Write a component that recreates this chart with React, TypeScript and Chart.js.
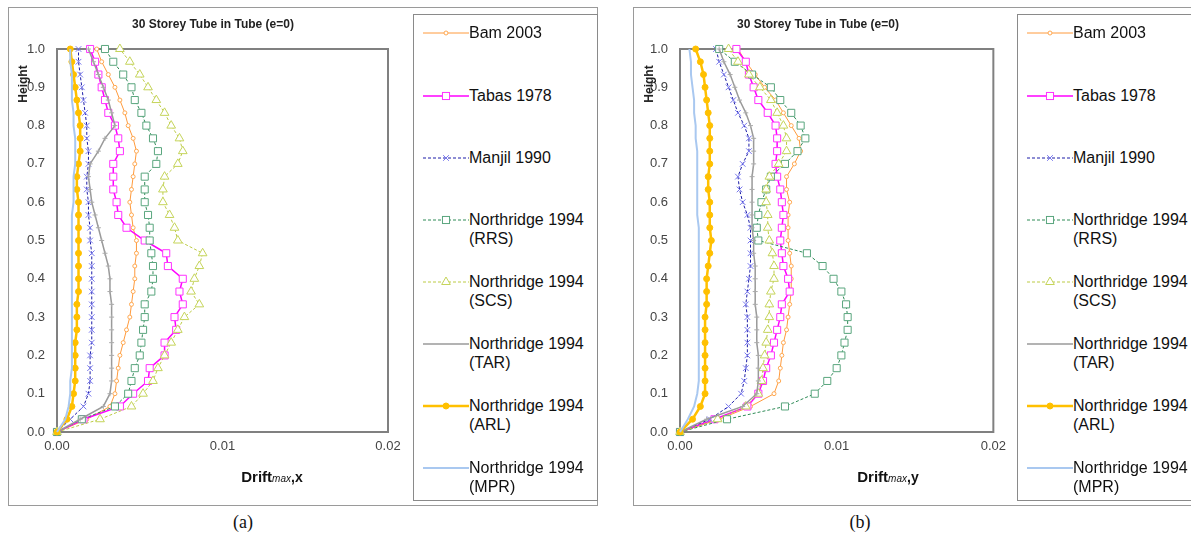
import React, { useEffect, useRef } from 'react';
import { Chart, registerables } from 'chart.js';
Chart.register(...registerables);

// ---------- data ----------
const HEIGHTS = [0, 0.0333, 0.0667, 0.1, 0.1333, 0.1667, 0.2, 0.2333, 0.2667, 0.3, 0.3333, 0.3667, 0.4, 0.4333, 0.4667, 0.5, 0.5333, 0.5667, 0.6, 0.6333, 0.6667, 0.7, 0.7333, 0.7667, 0.8, 0.8333, 0.8667, 0.9, 0.9333, 0.9667, 1.0];
const X_TICKS = [0, 0.01, 0.02];
const X_TICK_LABELS = ['0.00', '0.01', '0.02'];
const Y_TICKS = [0, 0.1, 0.2, 0.3, 0.4, 0.5, 0.6, 0.7, 0.8, 0.9, 1.0];
const Y_TICK_LABELS = ['0.0', '0.1', '0.2', '0.3', '0.4', '0.5', '0.6', '0.7', '0.8', '0.9', '1.0'];
const SERIES_NAMES = ['Bam 2003', 'Tabas 1978', 'Manjil 1990', 'Northridge 1994 (RRS)', 'Northridge 1994 (SCS)', 'Northridge 1994 (TAR)', 'Northridge 1994 (ARL)', 'Northridge 1994 (MPR)'];
const LEGEND_LINES = [['Bam 2003'], ['Tabas 1978'], ['Manjil 1990'], ['Northridge 1994', '(RRS)'], ['Northridge 1994', '(SCS)'], ['Northridge 1994', '(TAR)'], ['Northridge 1994', '(ARL)'], ['Northridge 1994', '(MPR)']];
const CHART_TITLE = '30 Storey Tube in Tube (e=0)';

// panel (a): Drift max,x
const A_BAM = [0, 0.0018, 0.0032, 0.0035, 0.0036, 0.0037, 0.0038, 0.0040, 0.0042, 0.0044, 0.0045, 0.0046, 0.0047, 0.0047, 0.0048, 0.0048, 0.0046, 0.0045, 0.0044, 0.0045, 0.0046, 0.0047, 0.0048, 0.0046, 0.0043, 0.0041, 0.0038, 0.0035, 0.0031, 0.0027, 0.0024];
const A_TABAS = [0, 0.0016, 0.0038, 0.0046, 0.0055, 0.0056, 0.0065, 0.0065, 0.0072, 0.0071, 0.0076, 0.0074, 0.0076, 0.0067, 0.0066, 0.0053, 0.0042, 0.0037, 0.0036, 0.0034, 0.0034, 0.0034, 0.0038, 0.0037, 0.0035, 0.0031, 0.0029, 0.0027, 0.0025, 0.0023, 0.0020];
const A_MANJIL = [0, 0.0008, 0.0016, 0.0019, 0.0020, 0.0020, 0.0020, 0.0021, 0.0021, 0.0021, 0.0021, 0.0021, 0.0021, 0.0021, 0.0021, 0.0020, 0.0020, 0.0019, 0.0019, 0.0018, 0.0018, 0.0019, 0.0019, 0.0018, 0.0018, 0.0017, 0.0016, 0.0015, 0.0014, 0.0013, 0.0013];
const A_RRS = [0, 0.0015, 0.0035, 0.0043, 0.0045, 0.0047, 0.0050, 0.0051, 0.0052, 0.0053, 0.0053, 0.0057, 0.0058, 0.0058, 0.0057, 0.0056, 0.0056, 0.0055, 0.0053, 0.0053, 0.0053, 0.0060, 0.0061, 0.0058, 0.0054, 0.0051, 0.0047, 0.0045, 0.0040, 0.0034, 0.0029];
const A_SCS = [0, 0.0026, 0.0045, 0.0052, 0.0058, 0.0061, 0.0065, 0.0069, 0.0073, 0.0077, 0.0086, 0.0081, 0.0083, 0.0086, 0.0088, 0.0073, 0.0071, 0.0068, 0.0064, 0.0064, 0.0065, 0.0073, 0.0076, 0.0074, 0.0069, 0.0065, 0.0060, 0.0055, 0.0050, 0.0044, 0.0038];
const A_TAR = [0, 0.0014, 0.0028, 0.0032, 0.0033, 0.0033, 0.0033, 0.0033, 0.0033, 0.0033, 0.0033, 0.0032, 0.0032, 0.0031, 0.0029, 0.0027, 0.0025, 0.0023, 0.0021, 0.0020, 0.0019, 0.0020, 0.0025, 0.0029, 0.0035, 0.0033, 0.0031, 0.0028, 0.0025, 0.0022, 0.0019];
const A_ARL = [0, 0.0006, 0.0009, 0.0010, 0.0011, 0.0011, 0.0011, 0.0011, 0.0012, 0.0012, 0.0012, 0.0013, 0.0013, 0.0013, 0.0013, 0.0013, 0.0013, 0.0013, 0.0013, 0.0012, 0.0012, 0.0013, 0.0014, 0.0014, 0.0014, 0.0013, 0.0012, 0.0011, 0.0010, 0.0009, 0.0008];
const A_MPR = [0, 0.0005, 0.0007, 0.0008, 0.0008, 0.0009, 0.0009, 0.0009, 0.0009, 0.0009, 0.0009, 0.0009, 0.0009, 0.0009, 0.0009, 0.0009, 0.0009, 0.0009, 0.0010, 0.0010, 0.0010, 0.0011, 0.0011, 0.0011, 0.0010, 0.0010, 0.0009, 0.0009, 0.0009, 0.0008, 0.0008];

// panel (b): Drift max,y
const B_BAM = [0, 0.0025, 0.0045, 0.0060, 0.0063, 0.0064, 0.0065, 0.0066, 0.0068, 0.0069, 0.0070, 0.0071, 0.0071, 0.0071, 0.0070, 0.0069, 0.0069, 0.0069, 0.0070, 0.0068, 0.0068, 0.0073, 0.0077, 0.0076, 0.0071, 0.0066, 0.0061, 0.0054, 0.0048, 0.0042, 0.0037];
const B_TABAS = [0, 0.0022, 0.0043, 0.0050, 0.0053, 0.0055, 0.0058, 0.0060, 0.0062, 0.0064, 0.0065, 0.0070, 0.0069, 0.0066, 0.0065, 0.0064, 0.0065, 0.0066, 0.0065, 0.0064, 0.0062, 0.0061, 0.0062, 0.0062, 0.0061, 0.0056, 0.0050, 0.0047, 0.0044, 0.0042, 0.0036];
const B_MANJIL = [0, 0.0019, 0.0031, 0.0039, 0.0041, 0.0042, 0.0043, 0.0043, 0.0043, 0.0043, 0.0042, 0.0043, 0.0044, 0.0045, 0.0045, 0.0045, 0.0045, 0.0043, 0.0040, 0.0038, 0.0037, 0.0040, 0.0044, 0.0044, 0.0041, 0.0037, 0.0034, 0.0031, 0.0028, 0.0025, 0.0023];
const B_RRS = [0, 0.0030, 0.0067, 0.0086, 0.0094, 0.0100, 0.0103, 0.0105, 0.0107, 0.0107, 0.0106, 0.0103, 0.0098, 0.0091, 0.0081, 0.0050, 0.0049, 0.0050, 0.0052, 0.0055, 0.0058, 0.0067, 0.0075, 0.0080, 0.0077, 0.0071, 0.0064, 0.0058, 0.0046, 0.0035, 0.0025];
const B_SCS = [0, 0.0024, 0.0042, 0.0050, 0.0052, 0.0053, 0.0054, 0.0055, 0.0056, 0.0057, 0.0057, 0.0058, 0.0060, 0.0060, 0.0059, 0.0057, 0.0056, 0.0056, 0.0055, 0.0055, 0.0057, 0.0063, 0.0068, 0.0068, 0.0066, 0.0062, 0.0058, 0.0051, 0.0044, 0.0037, 0.0031];
const B_TAR = [0, 0.0017, 0.0040, 0.0049, 0.0050, 0.0050, 0.0050, 0.0049, 0.0049, 0.0049, 0.0048, 0.0048, 0.0048, 0.0048, 0.0047, 0.0047, 0.0046, 0.0046, 0.0046, 0.0046, 0.0046, 0.0047, 0.0047, 0.0047, 0.0045, 0.0042, 0.0038, 0.0035, 0.0032, 0.0028, 0.0025];
const B_ARL = [0, 0.0008, 0.0013, 0.0016, 0.0016, 0.0016, 0.0016, 0.0016, 0.0016, 0.0016, 0.0017, 0.0017, 0.0017, 0.0018, 0.0019, 0.0020, 0.0019, 0.0019, 0.0019, 0.0018, 0.0018, 0.0019, 0.0019, 0.0019, 0.0019, 0.0018, 0.0017, 0.0016, 0.0015, 0.0013, 0.0010];
const B_MPR = [0, 0.0005, 0.0009, 0.0011, 0.0012, 0.0012, 0.0012, 0.0012, 0.0012, 0.0012, 0.0012, 0.0012, 0.0012, 0.0012, 0.0012, 0.0012, 0.0012, 0.0011, 0.0011, 0.0011, 0.0011, 0.0011, 0.0011, 0.0010, 0.0010, 0.0009, 0.0009, 0.0008, 0.0007, 0.0007, 0.0006];

// ---------- styles ----------
const SANS = "'Liberation Sans', Arial, sans-serif";
type Style = { color: string; width: number; dash: number[]; point: string | false; radius: number; pColor: string; pFill: string };
const STYLES: Style[] = [
  { color: '#FF9A3C', width: 1, dash: [], point: 'circle', radius: 2, pColor: '#FFA850', pFill: '#ffffff' },
  { color: '#FF00FF', width: 1.5, dash: [], point: 'rect', radius: 5, pColor: '#FF33FF', pFill: '#ffffff' },
  { color: '#1c1ca8', width: 1, dash: [3, 2], point: 'crossRot', radius: 4, pColor: '#7777ee', pFill: '#ffffff' },
  { color: '#2e8b57', width: 1, dash: [3, 2], point: 'rect', radius: 5, pColor: '#5aa67e', pFill: '#ffffff' },
  { color: '#bccb45', width: 1, dash: [3, 2], point: 'triangle', radius: 5, pColor: '#c5d45a', pFill: '#ffffff' },
  { color: '#9a9a9a', width: 1.5, dash: [], point: 'cross', radius: 2.5, pColor: '#aaaaaa', pFill: '#ffffff' },
  { color: '#FFC000', width: 2.5, dash: [], point: 'circle', radius: 3, pColor: '#FFC000', pFill: '#FFC000' },
  { color: '#A9C8F0', width: 2, dash: [], point: false, radius: 0, pColor: '#A9C8F0', pFill: '#A9C8F0' },
];

type PanelCfg = {
  values: number[][];
  axisSuffix: string;
  canvasLeft: number; canvasTop: number; canvasW: number; canvasH: number;
  plotL: number; plotR: number; plotT: number; plotB: number; // canvas coords
  frameL: number; frameR: number;
  legendL: number; legendR: number;
  titleX: number; driftX: number; heightX: number; capX: number; cap: string;
};

const PANELS: PanelCfg[] = [
  {
    values: [A_BAM, A_TABAS, A_MANJIL, A_RRS, A_SCS, A_TAR, A_ARL, A_MPR], axisSuffix: 'x',
    canvasLeft: 8, canvasTop: 7, canvasW: 400, canvasH: 499,
    plotL: 49, plotR: 380, plotT: 42, plotB: 425,
    frameL: 8, frameR: 598, legendL: 413, legendR: 598,
    titleX: 213, driftX: 272, heightX: 24, capX: 243, cap: '(a)',
  },
  {
    values: [B_BAM, B_TABAS, B_MANJIL, B_RRS, B_SCS, B_TAR, B_ARL, B_MPR], axisSuffix: 'y',
    canvasLeft: 633, canvasTop: 7, canvasW: 380, canvasH: 499,
    plotL: 47, plotR: 365, plotT: 42, plotB: 425,
    frameL: 633, frameR: 1195, legendL: 1017, legendR: 1195,
    titleX: 818, driftX: 888, heightX: 650, capX: 860, cap: '(b)',
  },
];

const LEGEND_Y = [33, 96, 158, 220, 282, 344, 406, 468];

const plotFrame = {
  id: 'plotFrame',
  beforeDatasetsDraw(chart: any) {
    const { ctx, chartArea: a } = chart;
    ctx.save();
    ctx.strokeStyle = '#808080';
    ctx.lineWidth = 2;
    ctx.strokeRect(a.left, a.top, a.right - a.left, a.bottom - a.top);
    ctx.restore();
  },
};

function PanelChart({ cfg }: { cfg: PanelCfg }) {
  const ref = useRef<HTMLCanvasElement | null>(null);
  useEffect(() => {
    if (!ref.current) return;
    const datasets = cfg.values.map((vals, i) => {
      const s = STYLES[i];
      return {
        label: SERIES_NAMES[i],
        data: vals.map((v, k) => ({ x: v, y: HEIGHTS[k] })),
        showLine: true,
        borderColor: s.color,
        borderWidth: s.width,
        borderDash: s.dash,
        pointStyle: s.point === false ? 'circle' : s.point,
        pointRadius: s.radius,
        pointBorderColor: s.pColor,
        pointBackgroundColor: s.pFill,
        pointBorderWidth: 1,
        tension: 0,
        clip: false as any,
        order: 7 - i,
      };
    });
    const chart = new Chart(ref.current, {
      type: 'scatter',
      data: { datasets: datasets as any },
      plugins: [plotFrame],
      options: {
        animation: false,
        responsive: false,
        events: [],
        layout: { padding: { left: 0, top: cfg.plotT, right: cfg.canvasW - cfg.plotR, bottom: 0 } },
        plugins: { legend: { display: false }, tooltip: { enabled: false }, title: { display: false } },
        scales: {
          x: {
            type: 'linear', min: 0, max: 0.02,
            afterBuildTicks: (s: any) => { s.ticks = X_TICKS.map((v) => ({ value: v })); },
            afterFit: (s: any) => { s.height = cfg.canvasH - cfg.plotB; },
            ticks: {
              callback: (_v: any, i: number) => X_TICK_LABELS[i],
              font: { family: SANS, size: 13 }, color: '#444', padding: 7, maxRotation: 0, autoSkip: false,
            },
            grid: { display: false, drawTicks: false },
            border: { display: false },
          },
          y: {
            type: 'linear', min: 0, max: 1,
            afterBuildTicks: (s: any) => { s.ticks = Y_TICKS.map((v) => ({ value: v })); },
            afterFit: (s: any) => { s.width = cfg.plotL; },
            ticks: {
              callback: (_v: any, i: number) => Y_TICK_LABELS[i],
              font: { family: SANS, size: 13 }, color: '#444', padding: 12, autoSkip: false,
            },
            grid: { display: false, drawTicks: false },
            border: { display: false },
          },
        },
      } as any,
    });
    return () => chart.destroy();
  }, [cfg]);
  return (
    <canvas
      ref={ref}
      width={cfg.canvasW}
      height={cfg.canvasH}
      style={{ position: 'absolute', left: cfg.canvasLeft, top: cfg.canvasTop, width: cfg.canvasW, height: cfg.canvasH }}
    />
  );
}

function MarkerSvg({ s }: { s: Style }) {
  const cx = 23, cy = 7;
  let marker: any = null;
  const r = s.radius;
  if (s.point === 'circle') marker = <circle cx={cx} cy={cy} r={r} fill={s.pFill} stroke={s.pColor} strokeWidth={1} />;
  else if (s.point === 'rect') { const h = r * 0.707; marker = <rect x={cx - h} y={cy - h} width={2 * h} height={2 * h} fill={s.pFill} stroke={s.pColor} strokeWidth={1} />; }
  else if (s.point === 'crossRot') { const h = r * 0.707; marker = <path d={`M${cx - h},${cy - h}L${cx + h},${cy + h}M${cx - h},${cy + h}L${cx + h},${cy - h}`} stroke={s.pColor} strokeWidth={1} />; }
  else if (s.point === 'triangle') marker = <path d={`M${cx},${cy - r}L${cx + r * 0.866},${cy + r * 0.5}L${cx - r * 0.866},${cy + r * 0.5}Z`} fill={s.pFill} stroke={s.pColor} strokeWidth={1} />;
  return (
    <svg width={46} height={14} style={{ position: 'absolute', left: 0, top: 0 }}>
      <line x1={0} y1={cy} x2={46} y2={cy} stroke={s.color} strokeWidth={s.width} strokeDasharray={s.dash.length ? s.dash.join(',') : undefined} />
      {marker}
    </svg>
  );
}

function Panel({ cfg }: { cfg: PanelCfg }) {
  return (
    <>
      <div style={{ position: 'absolute', left: cfg.frameL, top: 7, width: cfg.frameR - cfg.frameL, height: 499, border: '1px solid #9a9a9a', boxSizing: 'border-box' }} />
      <div style={{ position: 'absolute', left: cfg.legendL, top: 14, width: cfg.legendR - cfg.legendL, height: 487, border: '1.5px solid #8a8a8a', boxSizing: 'border-box', background: '#fff' }} />
      <PanelChart cfg={cfg} />
      <div style={{ position: 'absolute', left: cfg.titleX - 150, width: 300, top: 17, textAlign: 'center', font: `bold 12px ${SANS}`, color: '#222', whiteSpace: 'nowrap' }}>{CHART_TITLE}</div>
      <div style={{ position: 'absolute', left: cfg.heightX - 30, top: 84 - 8, width: 60, height: 16, lineHeight: '16px', textAlign: 'center', transform: 'rotate(-90deg)', font: `bold 12px ${SANS}`, color: '#222' }}>Height</div>
      <div style={{ position: 'absolute', left: cfg.driftX - 60, width: 120, top: 468, textAlign: 'center', color: '#111', whiteSpace: 'nowrap', fontFamily: SANS }}>
        <span style={{ fontWeight: 'bold', fontSize: 15 }}>Drift</span>
        <span style={{ fontStyle: 'italic', fontSize: 10 }}>max</span>
        <span style={{ fontWeight: 'bold', fontSize: 14 }}>,{cfg.axisSuffix}</span>
      </div>
      {LEGEND_LINES.map((lines, i) => (
        <div key={i} style={{ position: 'absolute', left: cfg.legendL + 10, top: LEGEND_Y[i] - 7, width: 200, height: 40 }}>
          <MarkerSvg s={STYLES[i]} />
          <div style={{ position: 'absolute', left: 46, top: -3, font: `16px ${SANS}`, lineHeight: '19px', color: '#111', whiteSpace: 'nowrap' }}>
            {lines.map((t, j) => <div key={j}>{t}</div>)}
          </div>
        </div>
      ))}
      <div style={{ position: 'absolute', left: cfg.capX - 30, width: 60, top: 512, textAlign: 'center', font: "18px 'Liberation Serif', 'Times New Roman', serif", color: '#111' }}>{cfg.cap}</div>
    </>
  );
}

export default function App() {
  return (
    <div style={{ position: 'absolute', left: 0, top: 0, width: 1191, height: 545, background: '#fff', overflow: 'hidden' }}>
      {PANELS.map((p, i) => <Panel key={i} cfg={p} />)}
    </div>
  );
}
